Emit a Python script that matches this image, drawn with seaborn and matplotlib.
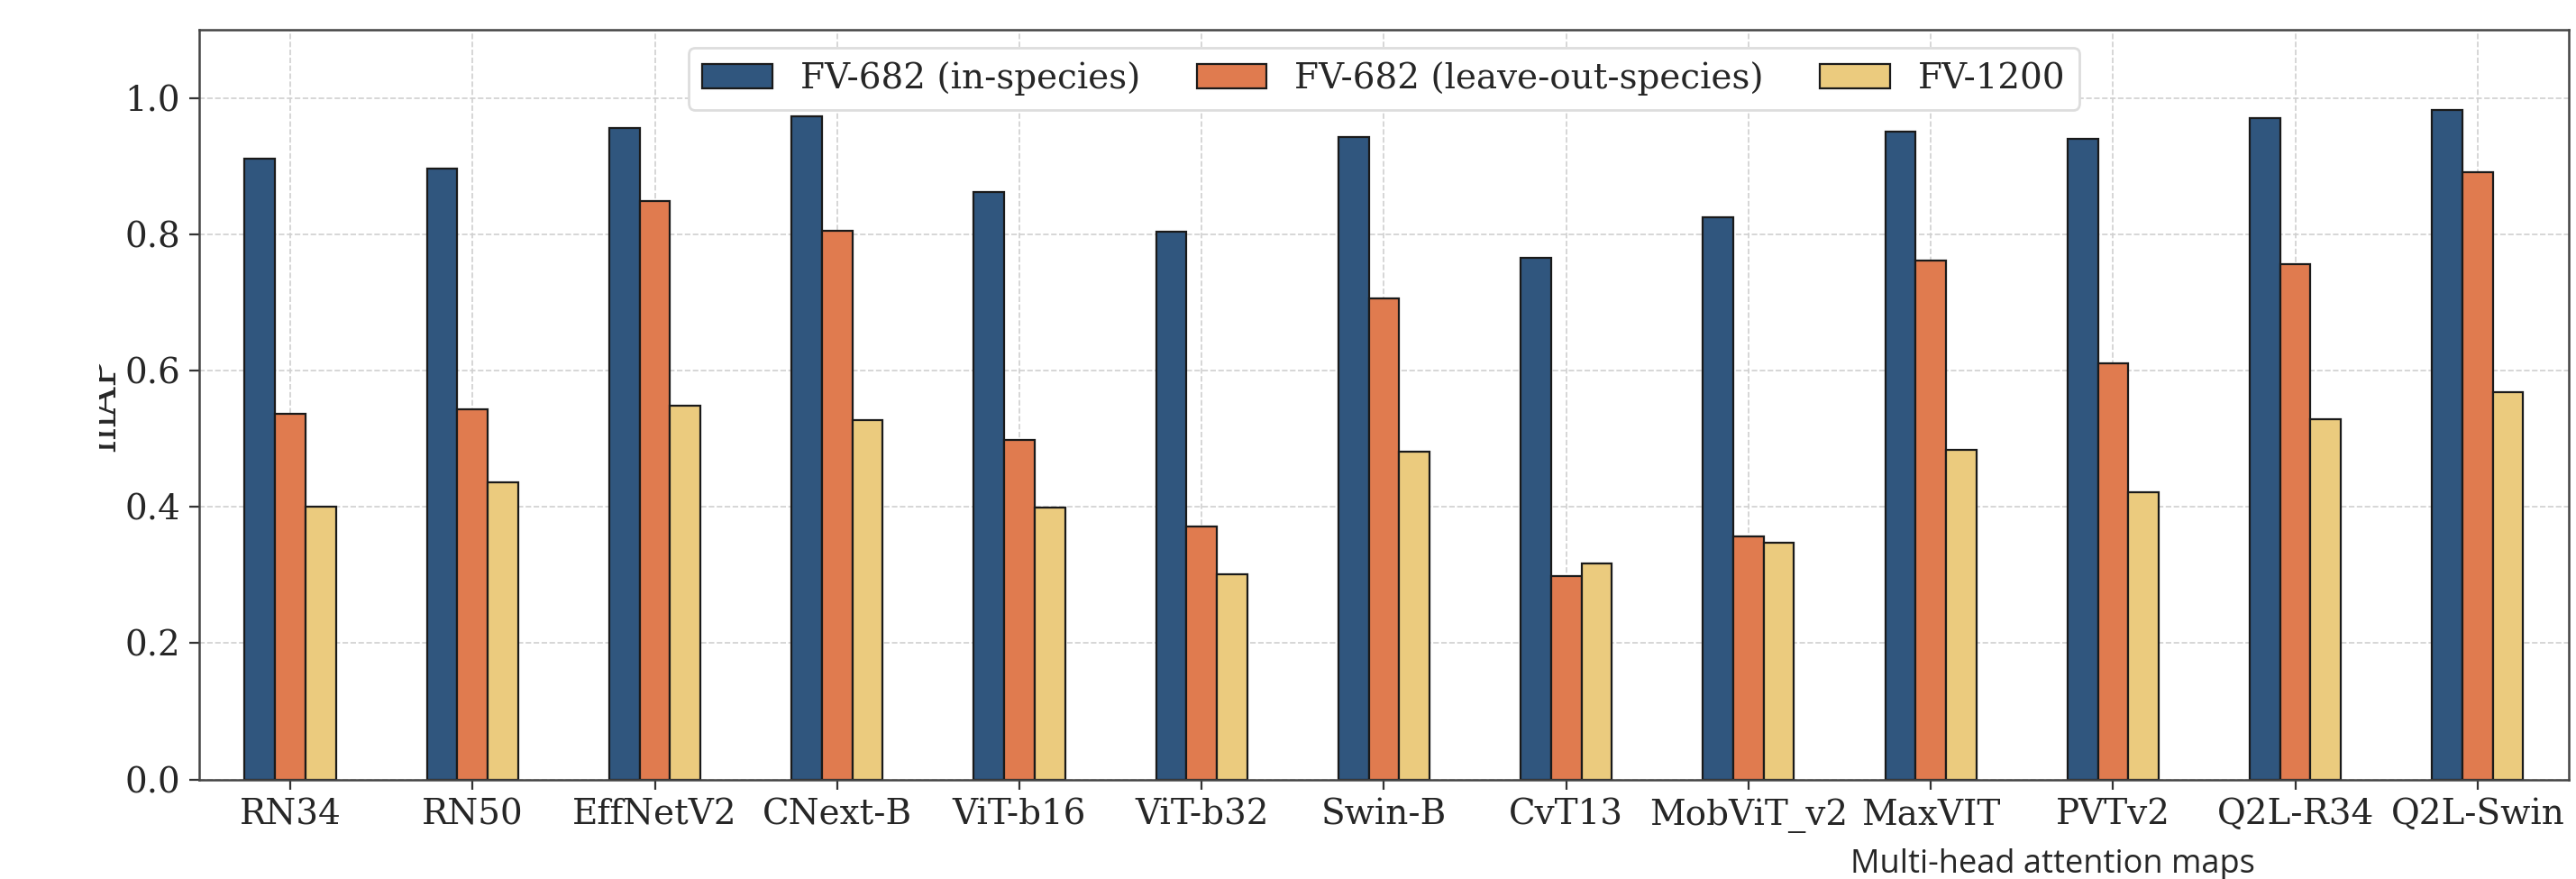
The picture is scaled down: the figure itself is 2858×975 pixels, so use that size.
import matplotlib
matplotlib.use('Agg')
import matplotlib.pyplot as plt
from matplotlib.transforms import Bbox, TransformedBbox
import seaborn as sns
import pandas as pd

# --- data ---
MODELS = ["RN34", "RN50", "EffNetV2", "CNext-B", "ViT-b16", "ViT-b32", "Swin-B",
          "CvT13", "MobViT_v2", "MaxVIT", "PVTv2", "Q2L-R34", "Q2L-Swin"]
SERIES = ["FV-682 (in-species)", "FV-682 (leave-out-species)", "FV-1200"]

fv682_in = [0.911, 0.897, 0.956, 0.973, 0.862, 0.804, 0.943, 0.765, 0.825, 0.951, 0.940, 0.971, 0.983]
fv682_out = [0.537, 0.543, 0.849, 0.805, 0.498, 0.371, 0.706, 0.299, 0.356, 0.761, 0.610, 0.756, 0.891]
fv1200 = [0.400, 0.436, 0.549, 0.527, 0.399, 0.301, 0.481, 0.317, 0.347, 0.483, 0.421, 0.528, 0.568]

COLORS = ["#30567e", "#e07b4f", "#ebcb7e"]

df = pd.DataFrame({
    "model": MODELS * 3,
    "series": [SERIES[0]] * 13 + [SERIES[1]] * 13 + [SERIES[2]] * 13,
    "mAP": fv682_in + fv682_out + fv1200,
})

sns.set_style("whitegrid", {
    "grid.linestyle": "--",
    "grid.color": "#d0d0d0",
    "axes.edgecolor": "#333333",
})
plt.rcParams['font.family'] = ['DejaVu Serif']

fig = plt.figure(figsize=(14.29, 4.875), dpi=200)
ax = fig.add_axes([0.0773, 0.1133, 0.9199, 0.8527])

sns.barplot(data=df, x="model", y="mAP", hue="series", palette=COLORS,
            width=0.5, gap=0, edgecolor="#1a1a1a", linewidth=0.8,
            saturation=1, ax=ax)

ax.set_ylim(0, 1.1)
ax.set_xlim(-0.5, 12.5)
ax.set_yticks([0.0, 0.2, 0.4, 0.6, 0.8, 1.0])
ax.set_xlabel("")
ax.set_ylabel("mAP", fontsize=16, labelpad=0.5)
ax.tick_params(axis="both", labelsize=14, length=4, width=0.8, color="#333333",
               bottom=True, left=True)
ax.grid(True, linestyle="--", linewidth=0.6, color="#d0d0d0")
ax.set_axisbelow(True)
for sp in ax.spines.values():
    sp.set_linewidth(0.9)
    sp.set_color("#444444")

# the screenshot cuts the left edge of the y label
ylab = ax.yaxis.label
ylab.set_clip_on(True)
ylab.set_clip_box(TransformedBbox(Bbox([[110 / 2858, 0], [1, 1]]), fig.transFigure))

ax.legend(loc="upper center", ncol=3, fontsize=14, frameon=True, fancybox=True,
          edgecolor="#dddddd", framealpha=1.0, columnspacing=1.6)

fig.text(0.797, 0.0072, "Multi-head attention maps", family=["Open Sans", "DejaVu Sans"],
         fontsize=13, ha="center", va="baseline")

plt.savefig("out.png", dpi=200)
plt.close()
